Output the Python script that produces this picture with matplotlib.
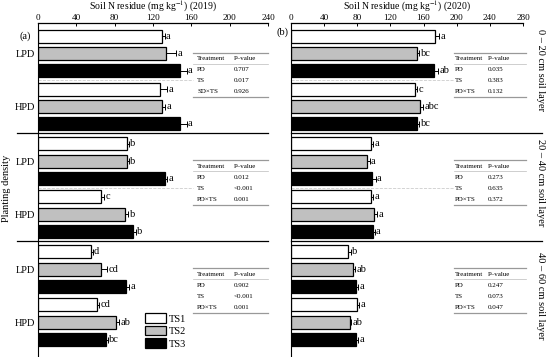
import matplotlib.pyplot as plt
from matplotlib.patches import Patch

plt.rcParams['font.family'] = ['Liberation Serif', 'DejaVu Serif']
plt.rcParams['mathtext.fontset'] = 'stix'

layers = ['0 – 20 cm soil layer', '20 – 40 cm soil layer', '40 – 60 cm soil layer']
densities = ['LPD', 'HPD']
treatments = ['TS1', 'TS2', 'TS3']
colors = ['white', '#c0c0c0', 'black']

# rows: layer x density (LPD, HPD), columns: TS1, TS2, TS3
n2019 = [[129, 134, 148], [127, 129, 148],
         [93, 93, 132], [66, 91, 99],
         [55, 66, 92], [62, 81, 71]]
e2019 = [[3, 10, 7], [8, 4, 7],
         [2, 2, 3], [3, 3, 3],
         [2, 6, 3], [2, 4, 2]]
l2019 = [['a', 'a', 'a'], ['a', 'a', 'a'],
         ['b', 'b', 'a'], ['c', 'b', 'b'],
         ['d', 'cd', 'a'], ['cd', 'ab', 'bc']]

n2020 = [[174, 152, 173], [150, 156, 152],
         [96, 92, 98], [96, 100, 99],
         [69, 75, 79], [80, 71, 79]]
e2020 = [[5, 3, 5], [2, 3, 3],
         [3, 3, 4], [3, 4, 2],
         [3, 2, 2], [2, 2, 2]]
l2020 = [['a', 'bc', 'ab'], ['c', 'abc', 'bc'],
         ['a', 'a', 'a'], ['a', 'a', 'a'],
         ['b', 'ab', 'a'], ['a', 'ab', 'a']]

terms2019 = [['PD', 'TS', 'SD×TS'], ['PD', 'TS', 'PD×TS'], ['PD', 'TS', 'PD×TS']]
p2019 = [['0.707', '0.017', '0.926'], ['0.012', '<0.001', '0.001'], ['0.902', '<0.001', '0.001']]
terms2020 = [['PD', 'TS', 'PD×TS'], ['PD', 'TS', 'PD×TS'], ['PD', 'TS', 'PD×TS']]
p2020 = [['0.035', '0.383', '0.132'], ['0.273', '0.635', '0.372'], ['0.247', '0.073', '0.047']]

SEC = 6.2   # section step on y
GRP = 3.05  # group step on y


def panel(ax, vals, errs, lets, terms, pvals, xmax, xstep, tab, year):
    for s in range(3):
        for g in range(2):
            row = s * 2 + g
            for t in range(3):
                y = s * SEC + g * GRP + t
                v = vals[row][t]
                e = errs[row][t]
                ax.barh(y, v, height=0.75, color=colors[t], edgecolor='black', linewidth=0.9, zorder=2)
                ax.errorbar(v, y, xerr=[[0], [e]], fmt='none', ecolor='black',
                            elinewidth=0.7, capsize=2.2, capthick=0.7, zorder=3)
                ax.text(v + e + xmax * 0.006, y, lets[row][t], fontsize=7.5, va='center', ha='left')
        # divider between layers
        if s > 0:
            ax.plot(tab['div'], [s * SEC - 0.62] * 2, color='black', lw=0.9, clip_on=False)
        # ANOVA table
        x0, x1, c1, c2 = tab['x']
        y0 = s * SEC
        ax.plot([x0, x1], [y0 + 0.95] * 2, color='#999999', lw=0.9, clip_on=False)
        ax.plot([x0, x1], [y0 + 1.58] * 2, color='#bbbbbb', lw=0.5, clip_on=False)
        ax.plot([x0, x1], [y0 + 3.5] * 2, color='#999999', lw=0.9, clip_on=False)
        ax.text(c1, y0 + 1.28, 'Treatment', fontsize=5, va='center')
        ax.text(c2, y0 + 1.28, 'P–value', fontsize=5, va='center')
        for k, yy in enumerate([1.93, 2.57, 3.2]):
            ax.text(c1, y0 + yy, terms[s][k], fontsize=5, va='center')
            ax.text(c2, y0 + yy, pvals[s][k], fontsize=5, va='center')
        if s < 2:
            ax.plot([0, x0], [y0 + 2.55] * 2, color='#cccccc', lw=0.6, ls='--', zorder=1)

    ax.set_xlim(0, xmax)
    ax.set_ylim(18.45, -0.75)
    ax.xaxis.tick_top()
    ax.xaxis.set_label_position('top')
    ax.set_xticks(range(0, xmax + 1, xstep))
    ax.tick_params(axis='x', labelsize=6.6, length=2, width=0.7, pad=0.5, direction='in')
    ax.set_xlabel('Soil N residue (mg kg$^{-1}$) (%d)' % year, fontsize=7, labelpad=3)
    for sp in ['right', 'bottom']:
        ax.spines[sp].set_visible(False)
    ax.spines['top'].set_linewidth(0.9)
    ax.spines['left'].set_linewidth(0.8)


fig = plt.figure(figsize=(5.5, 3.57), dpi=100)
ax1 = fig.add_axes([38 / 550, 0, 230 / 550, 334 / 357])
ax2 = fig.add_axes([291 / 550, 0, 232 / 550, 334 / 357])

panel(ax1, n2019, e2019, l2019, terms2019, p2019, 240, 40,
      {'div': [-22, 240], 'x': [162, 240.5, 166, 204]}, 2019)
panel(ax2, n2020, e2020, l2020, terms2020, p2020, 280, 40,
      {'div': [0, 303], 'x': [197, 283.5, 198, 238]}, 2020)

# density labels
yt = [s * SEC + g * GRP + 1 for s in range(3) for g in range(2)]
ax1.set_yticks(yt)
ax1.set_yticklabels(densities * 3, fontsize=7.5)
ax1.tick_params(axis='y', length=0, pad=2)
ax2.set_yticks([])

ax1.text(-19, 0, '(a)', fontsize=7.5, va='center')
ax2.text(-18, -0.2, '(b)', fontsize=7.5, va='center')

fig.text(7 / 550, 1 - 188 / 357, 'Planting density', rotation=90, fontsize=7.5,
         ha='center', va='center')
for s, lab in enumerate(layers):
    fig.text(540 / 550, 1 - (70 + s * 113) / 357, lab, rotation=-90, fontsize=7.5,
             ha='center', va='center')

handles = [Patch(facecolor=c, edgecolor='black', linewidth=0.9) for c in colors]
ax1.legend(handles, treatments, loc='lower left', bbox_to_anchor=(0.465, 0.025),
           frameon=False, fontsize=7.5, handlelength=2.0, handleheight=1.05,
           labelspacing=0.2, handletextpad=0.3, borderpad=0, borderaxespad=0)

fig.savefig('out.png', dpi=100)
